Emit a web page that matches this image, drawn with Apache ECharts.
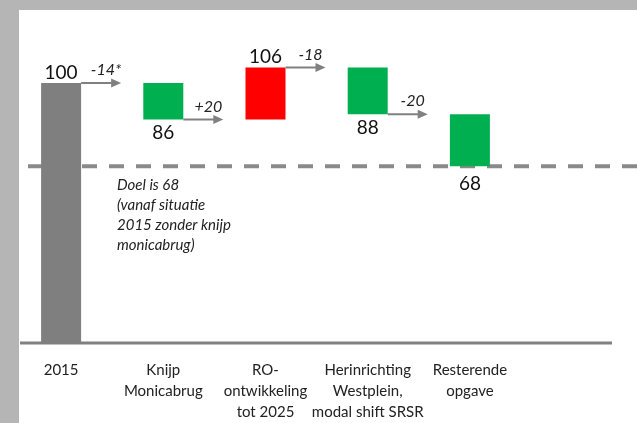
<!DOCTYPE html>
<html>
<head>
<meta charset="utf-8">
<script src="https://cdn.jsdelivr.net/npm/echarts@6/dist/echarts.min.js"></script>
<style>
html,body{margin:0;padding:0;background:#ffffff;}
#chart{width:637px;height:423px;}
</style>
</head>
<body>
<div id="chart"></div>
<script>
// ---- data ----
const categories = ['2015', 'Knijp\nMonicabrug', 'RO-\nontwikkeling\ntot 2025', 'Herinrichting\nWestplein,\nmodal shift SRSR', 'Resterende\nopgave'];
const levels = [100, 86, 106, 88, 68];
const stepLabels = ['-14*', '+20', '-18', '-20'];
const target = 68;
const targetNote = ['Doel is 68', '(vanaf situatie', '2015 zonder knijp', 'monicabrug)'];

// ---- styles ----
const FONT = 'Lato';
const GRAY = '#7f7f7f';
const GREEN = '#00b050';
const RED = '#ff0000';
const BAR_W = 40;

const baseData = levels.map((v, i) => i === 0 ? 0 : Math.min(levels[i - 1], v));
const bodyData = levels.map((v, i) => {
  const h = i === 0 ? v : Math.abs(v - levels[i - 1]);
  const up = i === 0 || v > levels[i - 1];
  const color = i === 0 ? GRAY : (up ? RED : GREEN);
  return {
    value: h,
    itemStyle: { color: color },
    label: { position: up ? 'top' : 'bottom', distance: up ? 1 : (v === target ? 8 : 4) }
  };
});

const chart = echarts.init(document.getElementById('chart'), null, { renderer: 'canvas' });

chart.setOption({
  animation: false,
  backgroundColor: '#ffffff',
  graphic: [
    { type: 'rect', left: 0, top: 0, z: -10, shape: { width: 637, height: 10 }, style: { fill: '#b5b5b5' } },
    { type: 'rect', left: 0, top: 0, z: -10, shape: { width: 19, height: 423 }, style: { fill: '#b5b5b5' } }
  ],
  grid: { left: 10, right: 116, top: 31, bottom: 79, containLabel: false },
  xAxis: {
    type: 'category',
    data: categories,
    axisLine: { show: false },
    axisTick: { show: false },
    axisLabel: {
      interval: 0,
      margin: 17,
      fontFamily: FONT,
      fontSize: 15,
      lineHeight: 21,
      color: '#222222'
    }
  },
  yAxis: { type: 'value', min: 0, max: 120, show: false },
  series: [
    {
      type: 'bar',
      stack: 'w',
      barWidth: BAR_W,
      data: baseData,
      itemStyle: { color: 'transparent' },
      silent: true
    },
    {
      type: 'bar',
      stack: 'w',
      barWidth: BAR_W,
      z: 3,
      data: bodyData,
      label: {
        show: true,
        fontFamily: FONT,
        fontSize: 19,
        color: '#111111',
        formatter: p => String(levels[p.dataIndex])
      }
    },
    {
      // baseline axis line and target line with note
      type: 'custom',
      z: 1,
      data: [[0, target]],
      renderItem: function (params, api) {
        const y0 = api.coord([0, 0])[1];
        const yt = api.coord([0, api.value(1)])[1];
        return {
          type: 'group',
          children: [
            { type: 'line', shape: { x1: 20, y1: y0, x2: 612, y2: y0 }, style: { stroke: '#808080', lineWidth: 3 } },
            { type: 'line', shape: { x1: 28, y1: yt, x2: 637, y2: yt }, style: { stroke: '#8a8a8a', lineWidth: 4, lineDash: [15, 12] } },
            {
              type: 'text',
              x: 117, y: yt + 8.5,
              style: {
                text: targetNote.join('\n'),
                fontFamily: FONT, fontStyle: 'italic', fontSize: 15, lineHeight: 20,
                fill: '#222222', verticalAlign: 'top', align: 'left'
              }
            }
          ]
        };
      }
    },
    {
      // step arrows with change labels
      type: 'custom',
      z: 4,
      data: stepLabels.map((s, i) => [i, levels[i]]),
      renderItem: function (params, api) {
        const i = api.value(0);
        const pt = api.coord([i, api.value(1)]);
        const x0 = pt[0] + BAR_W / 2;
        const L = 40;
        const y = pt[1];
        return {
          type: 'group',
          children: [
            { type: 'line', shape: { x1: x0, y1: y, x2: x0 + L - 8, y2: y }, style: { stroke: '#808080', lineWidth: 2 } },
            { type: 'polygon', shape: { points: [[x0 + L, y], [x0 + L - 10, y - 4.5], [x0 + L - 10, y + 4.5]] }, style: { fill: '#808080' } },
            {
              type: 'text', x: x0 + 25, y: y - 5,
              style: {
                text: stepLabels[i], fontFamily: FONT, fontStyle: 'italic', fontSize: 16,
                fill: '#222222', align: 'center', verticalAlign: 'bottom'
              }
            }
          ]
        };
      }
    }
  ]
});
</script>
</body>
</html>
